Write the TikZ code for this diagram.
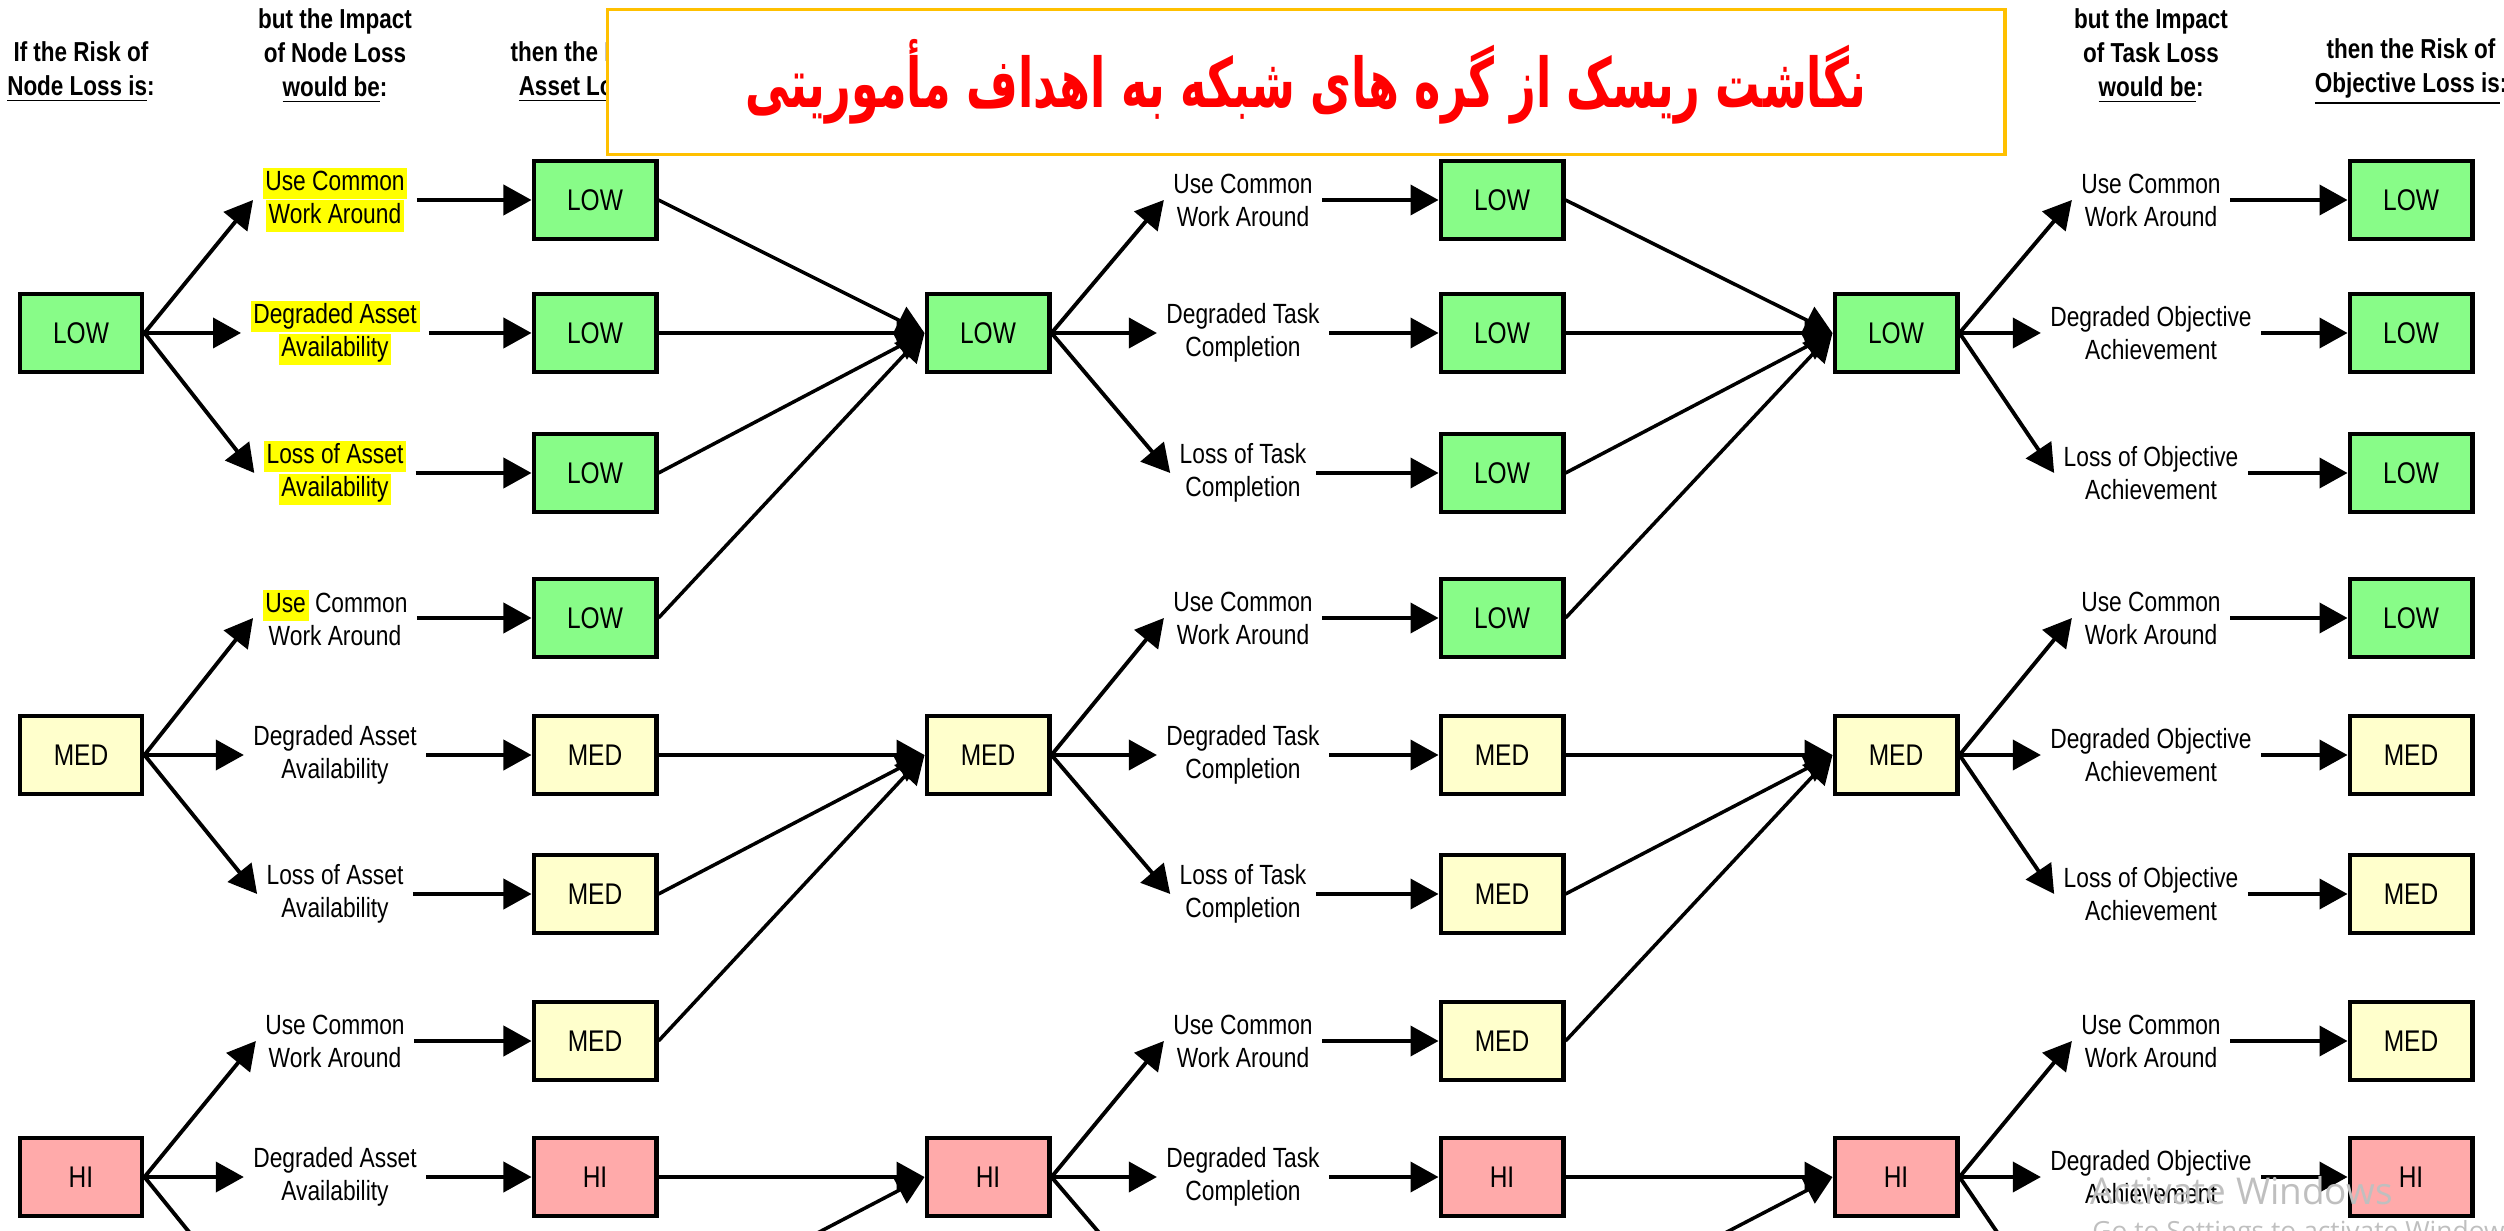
\documentclass[tikz,border=0pt]{standalone}
\usepackage{fontspec}
\usepackage{tikz}
\usetikzlibrary{arrows.meta}
\newfontfamily\diagfont[FakeStretch=0.82]{Liberation Sans}
\newfontfamily\farsifont[Script=Arabic,FakeStretch=0.65]{DejaVu Sans}
\newfontfamily\winfont{Open Sans}
\TeXXeTstate=1
\definecolor{lowgreen}{RGB}{136,252,136}
\definecolor{medyellow}{RGB}{255,255,204}
\definecolor{hipink}{RGB}{255,170,170}
\definecolor{hlyellow}{RGB}{255,255,0}
\definecolor{titlegold}{RGB}{255,192,0}
\newcommand{\hlt}[1]{{\setlength{\fboxsep}{0.8pt}\colorbox{hlyellow}{\vphantom{Ag}#1}}}

\begin{document}
\begin{tikzpicture}[x=0.01cm, y=-0.01cm,
    riskbox/.style={draw, line width=1.4pt, minimum width=1.22cm, minimum height=0.78cm, inner sep=0pt,
        font=\diagfont\fontsize{8.5}{10}\selectfont},
    impact/.style={align=center, inner sep=2.5pt, font=\diagfont\fontsize{7.9}{9.4}\selectfont},
    header/.style={align=center, font=\diagfont\bfseries\fontsize{7.8}{9.6}\selectfont},
    conn/.style={line width=1.1pt, -{Triangle[length=2.8mm,width=3mm]}}]
    \useasboundingbox (0,0) rectangle (2504,1231);
    \clip (0,0) rectangle (2504,1231);

    \node[header] (h1) at (81,72) {If the Risk of\\\underline{Node Loss is}:};
    \node[header] (h2) at (335,56) {but the Impact\\of Node Loss\\\underline{would be}:};
    \node[header] (h3) at (595,72) {then the Risk of\\\underline{Asset Loss is}:};
    \node[header] (h8) at (2151,56) {but the Impact\\of Task Loss\\\underline{would be}:};
    \node[header] (h9) at (2411,72) {then the Risk of\\\underline{Objective Loss is}:};

    \foreach \s/\sx in {1/81,2/988,3/1896}{
        \node[riskbox, fill=lowgreen] (a\s1) at (\sx,333) {LOW};
        \node[riskbox, fill=medyellow] (a\s2) at (\sx,755) {MED};
        \node[riskbox, fill=hipink] (a\s3) at (\sx,1177) {HI};
    }
    \foreach \s/\ox in {1/595,2/1502,3/2411}{
        \foreach \r/\y/\lv/\col in {1/200/LOW/lowgreen,2/333/LOW/lowgreen,3/473/LOW/lowgreen,
                4/618/LOW/lowgreen,5/755/MED/medyellow,6/894/MED/medyellow,7/1041/MED/medyellow,
                8/1177/HI/hipink,9/1316/HI/hipink}{
            \node[riskbox, fill=\col] (o\s\r) at (\ox,\y) {\lv};
        }
    }

    \node[impact] (t11) at (335,200) {\hlt{Use Common}\\\hlt{Work Around}};
    \node[impact] (t12) at (335,333) {\hlt{Degraded Asset}\\\hlt{Availability}};
    \node[impact] (t13) at (335,473) {\hlt{Loss of Asset}\\\hlt{Availability}};
    \node[impact] (t14) at (335,618) {\hlt{Use} Common\\Work Around};
    \node[impact] (t15) at (335,755) {Degraded Asset\\Availability};
    \node[impact] (t16) at (335,894) {Loss of Asset\\Availability};
    \node[impact] (t17) at (335,1041) {Use Common\\Work Around};
    \node[impact] (t18) at (335,1177) {Degraded Asset\\Availability};
    \node[impact] (t19) at (335,1316) {Loss of Asset\\Availability};
    \foreach \s/\tx/\A/\B in {2/1243/Task/Completion,3/2151/Objective/Achievement}{
        \foreach \g/\ra/\rb/\rc/\ya/\yb/\yc in {1/1/2/3/200/333/473,2/4/5/6/618/755/894,3/7/8/9/1041/1177/1316}{
            \node[impact] (t\s\ra) at (\tx,\ya) {Use Common\\Work Around};
            \node[impact] (t\s\rb) at (\tx,\yb) {Degraded \A\\\B};
            \node[impact] (t\s\rc) at (\tx,\yc) {Loss of \A\\\B};
        }
    }

    \foreach \s in {1,2,3}{
        \foreach \g/\ra/\rb/\rc in {1/1/2/3,2/4/5/6,3/7/8/9}{
            \draw[conn] (a\s\g.east) -- (t\s\ra.west);
            \draw[conn] (a\s\g.east) -- (t\s\rb.west);
            \draw[conn] (a\s\g.east) -- (t\s\rc.west);
        }
        \foreach \r in {1,...,9}{
            \draw[conn] (t\s\r.east) -- (o\s\r.west);
        }
    }
    \foreach \s/\n in {1/2,2/3}{
        \foreach \r/\g in {1/1,2/1,3/1,4/1,5/2,6/2,7/2,8/3,9/3}{
            \draw[conn, line width=1pt] (o\s\r.east) -- (a\n\g.west);
        }
    }

    \node[draw=titlegold, line width=0.9pt, fill=white, minimum width=13.97cm, minimum height=1.45cm]
        (title) at (1306,82) {\farsifont\bfseries\fontsize{19.5}{23}\selectfont\color{red}\beginR نگاشت ریسک از گره های شبکه به اهداف مأموریتی\endR};

    \node[font=\winfont\fontsize{10.5}{12}\selectfont, text=gray!50, anchor=base west] (act) at (2078,1204) {Activate Windows};
    \node[font=\winfont\fontsize{7.5}{9}\selectfont, text=gray!50, anchor=base west] (go) at (2080,1240) {Go to Settings to activate Windows.};
\end{tikzpicture}
\end{document}
